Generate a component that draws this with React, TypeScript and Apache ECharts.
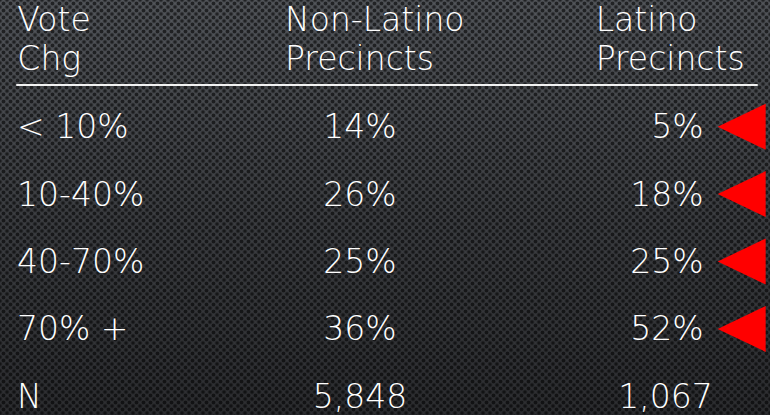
import React, { useEffect, useRef } from "react";
import * as echarts from "echarts";

// ---- data ----
const columnHeaders = ["Vote\nChg", "Non-Latino\nPrecincts", "Latino\nPrecincts"];
const rowLabels = ["< 10%", "10-40%", "40-70%", "70% +", "N"];
const nonLatinoPct = [14, 26, 25, 36];
const latinoPct = [5, 18, 25, 52];
const nonLatinoN = 5848;
const latinoN = 1067;
const flaggedRows = ["< 10%", "10-40%", "40-70%", "70% +"];

const FONT = "'DejaVu Sans', Lato, sans-serif";
const WEIGHT = 200;
const FS = 33;
const LH = 39;

function fmt(v: number, kind: string) {
  return kind === "pct" ? `${v}%` : v.toLocaleString("en-US");
}

export default function App() {
  const ref = useRef<HTMLDivElement>(null);
  useEffect(() => {
    if (!ref.current) return;
    const chart = echarts.init(ref.current, null, { renderer: "svg" });

    const nonLatinoData: any[] = nonLatinoPct.map((v, i) => ({ value: [1, i, v, "pct"] }));
    nonLatinoData.push({ value: [1, rowLabels.indexOf("N"), nonLatinoN, "count"] });
    const latinoData: any[] = latinoPct.map((v, i) => ({ value: [2, i, v, "pct"] }));
    latinoData.push({
      value: [2, rowLabels.indexOf("N"), latinoN, "count"],
      label: { offset: [79, 0] },
    });
    const markerData = flaggedRows.map((r) => [2, rowLabels.indexOf(r)]);

    const textBase = {
      color: "#ffffff",
      fontFamily: FONT,
      fontWeight: WEIGHT,
      fontSize: FS,
      opacity: 1,
    };

    chart.setOption({
      animation: false,
      backgroundColor: "transparent",
      grid: { left: 17, right: 13, top: 93, height: 337, containLabel: false },
      xAxis: {
        type: "category",
        position: "top",
        data: columnHeaders,
        boundaryGap: true,
        offset: 8,
        axisTick: { show: false },
        splitLine: { show: false },
        axisLine: { show: true, lineStyle: { color: "#f2f2f2", width: 2 } },
        axisLabel: {
          interval: 0,
          margin: 7,
          ...textBase,
          lineHeight: LH,
          formatter: (value: string, index: number) =>
            value
              .split("\n")
              .map((s) => `{c${index}|${s}}`)
              .join("\n"),
          rich: {
            c0: { ...textBase, lineHeight: LH, width: 246, align: "left" },
            c1: { ...textBase, lineHeight: LH, width: 225, padding: [0, 0, 0, 21], align: "left" },
            c2: { ...textBase, lineHeight: LH, width: 161, padding: [0, 0, 0, 85], align: "left" },
          },
        },
      },
      yAxis: {
        type: "category",
        data: rowLabels,
        inverse: true,
        axisLine: { show: false },
        axisTick: { show: false },
        splitLine: { show: false },
        axisLabel: {
          inside: true,
          margin: 0,
          align: "left",
          ...textBase,
        },
      },
      series: [
        {
          type: "scatter",
          data: nonLatinoData,
          symbolSize: 1,
          itemStyle: { color: "transparent", opacity: 1 },
          clip: false,
          label: {
            show: true,
            position: "inside",
            align: "center",
            offset: [-27, 0],
            ...textBase,
            formatter: (p: any) => fmt(p.value[2], p.value[3]),
          },
        },
        {
          type: "scatter",
          data: latinoData,
          symbolSize: 1,
          itemStyle: { color: "transparent", opacity: 1 },
          clip: false,
          label: {
            show: true,
            position: "inside",
            align: "right",
            offset: [70, 0],
            ...textBase,
            formatter: (p: any) => fmt(p.value[2], p.value[3]),
          },
        },
        {
          type: "scatter",
          data: markerData,
          symbol: "triangle",
          symbolRotate: 90,
          symbolSize: [46, 48],
          symbolOffset: [108, 0],
          clip: false,
          itemStyle: { color: "#ff0000", opacity: 1 },
          silent: true,
        },
      ],
    });
    return () => chart.dispose();
  }, []);

  return (
    <div
      style={{
        position: "fixed",
        left: 0,
        top: 0,
        width: 770,
        height: 415,
        overflow: "hidden",
        backgroundColor: "#3a3c40",
        backgroundImage:
          "radial-gradient(circle, rgba(0,0,0,0.6) 1.4px, rgba(0,0,0,0) 2.4px)," +
          "radial-gradient(circle, rgba(0,0,0,0.6) 1.4px, rgba(0,0,0,0) 2.4px)," +
          "linear-gradient(180deg, #53565b 0%, #3d3f43 50%, #2c2d30 100%)",
        backgroundSize: "7px 7px, 7px 7px, 100% 100%",
        backgroundPosition: "0 0, 3.5px 3.5px, 0 0",
      }}
    >
      <div ref={ref} style={{ width: 770, height: 440 }} />
    </div>
  );
}
